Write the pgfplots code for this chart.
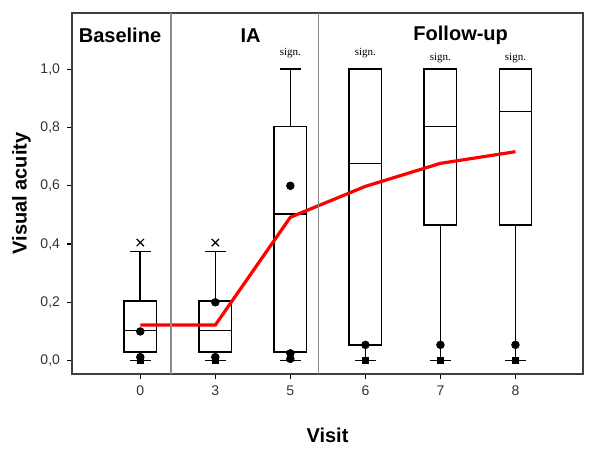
\documentclass[border=0pt]{standalone}
\usepackage{fontspec}
\setmainfont{Liberation Sans}
\newfontfamily\serifsign{Liberation Serif}
\usepackage{pgfplots}
\pgfplotsset{compat=1.18}
\usepgfplotslibrary{statistics}

\begin{document}
\begin{tikzpicture}
\begin{axis}[
  scale only axis,
  width=255.5pt, height=180.5pt,
  xmin=0.09, xmax=6.9,
  ymin=-0.046, ymax=1.193,
  axis line style={black!75, line width=0.7pt},
  xtick={1,2,3,4,5,6},
  xticklabels={0,3,5,6,7,8},
  ytick={0,0.2,0.4,0.6,0.8,1.0},
  tick align=outside,
  xtick pos=bottom, ytick pos=left,
  major tick length=2.5pt,
  tick style={black, line width=0.6pt},
  tick label style={font=\fontsize{7}{8}\selectfont, black!80},
  /pgf/number format/assume math mode=true,
  yticklabel style={/pgf/number format/.cd, fixed, fixed zerofill, precision=1, use comma},
  xlabel={\bfseries Visit},
  ylabel={\bfseries Visual acuity},
  label style={font=\fontsize{10}{12}\selectfont},
  xlabel style={yshift=-9pt},
  ylabel style={yshift=-2pt},
  boxplot/draw direction=y,
  boxplot/box extend=0.43,
  boxplot/whisker extend=0.28,
  boxplot/every box/.style={draw=black, fill=white, line width=0.8pt},
  boxplot/every whisker/.style={black, line width=0.8pt},
  boxplot/every median/.style={black, line width=0.8pt},
  clip=false,
]
% box plots
\addplot[black, line width=0.8pt, boxplot prepared={draw position=1,
  lower whisker=0, lower quartile=0.029, median=0.103, upper quartile=0.205, upper whisker=0.374}]
  coordinates {};
\addplot[black, line width=0.8pt, boxplot prepared={draw position=2,
  lower whisker=0, lower quartile=0.029, median=0.103, upper quartile=0.205, upper whisker=0.374}]
  coordinates {};
\addplot[black, line width=0.8pt, boxplot prepared={draw position=3,
  lower whisker=0, lower quartile=0.029, median=0.503, upper quartile=0.804, upper whisker=1.0}]
  coordinates {};
\addplot[black, line width=0.8pt, boxplot prepared={draw position=4,
  lower whisker=0, lower quartile=0.054, median=0.677, upper quartile=1.0, upper whisker=1.0}]
  coordinates {};
\addplot[black, line width=0.8pt, boxplot prepared={draw position=5,
  lower whisker=0, lower quartile=0.466, median=0.804, upper quartile=1.0, upper whisker=1.0}]
  coordinates {};
\addplot[black, line width=0.8pt, boxplot prepared={draw position=6,
  lower whisker=0, lower quartile=0.466, median=0.855, upper quartile=1.0, upper whisker=1.0}]
  coordinates {};

% extremes (x)
\addplot[only marks, mark=x, mark size=2.6pt, black, line width=0.6pt]
  coordinates {(1,0.405) (2,0.405)};
% minima (squares)
\addplot[only marks, mark=square*, mark size=1.5pt, black]
  coordinates {(1,0) (2,0) (4,0) (5,0) (6,0)};
% dots
\addplot[only marks, mark=*, mark size=1.9pt, black]
  coordinates {(1,0.10) (1,0.012) (2,0.20) (2,0.012) (3,0.60) (3,0.025) (3,0.006)
               (4,0.054) (5,0.054) (6,0.054)};

% mean line
\addplot[red, line width=1.6pt, mark=none]
  coordinates {(1,0.122) (2,0.122) (3,0.492) (4,0.598) (5,0.677) (6,0.717)};

% group separators
\draw[black!45, line width=0.6pt] (axis cs:1.41,-0.046) -- (axis cs:1.41,1.193);
\draw[black!45, line width=0.6pt] (axis cs:3.38,-0.046) -- (axis cs:3.38,1.193);

% group titles
\node[font=\fontsize{10}{12}\selectfont\bfseries] at (axis cs:0.73,1.115) {Baseline};
\node[font=\fontsize{10}{12}\selectfont\bfseries] at (axis cs:2.47,1.115) {IA};
\node[font=\fontsize{10}{12}\selectfont\bfseries] at (axis cs:5.27,1.115) {Follow-up};

% significance labels
\node[font=\serifsign\fontsize{5.5}{6}\selectfont] at (axis cs:3,1.055) {sign.};
\node[font=\serifsign\fontsize{5.5}{6}\selectfont] at (axis cs:4,1.055) {sign.};
\node[font=\serifsign\fontsize{5.5}{6}\selectfont] at (axis cs:5,1.037) {sign.};
\node[font=\serifsign\fontsize{5.5}{6}\selectfont] at (axis cs:6,1.037) {sign.};
\end{axis}
\pgfresetboundingbox
\path ([xshift=-36pt,yshift=-41.5pt]current axis.south west) rectangle ([xshift=8.5pt,yshift=6.5pt]current axis.north east);
\end{tikzpicture}
\end{document}
